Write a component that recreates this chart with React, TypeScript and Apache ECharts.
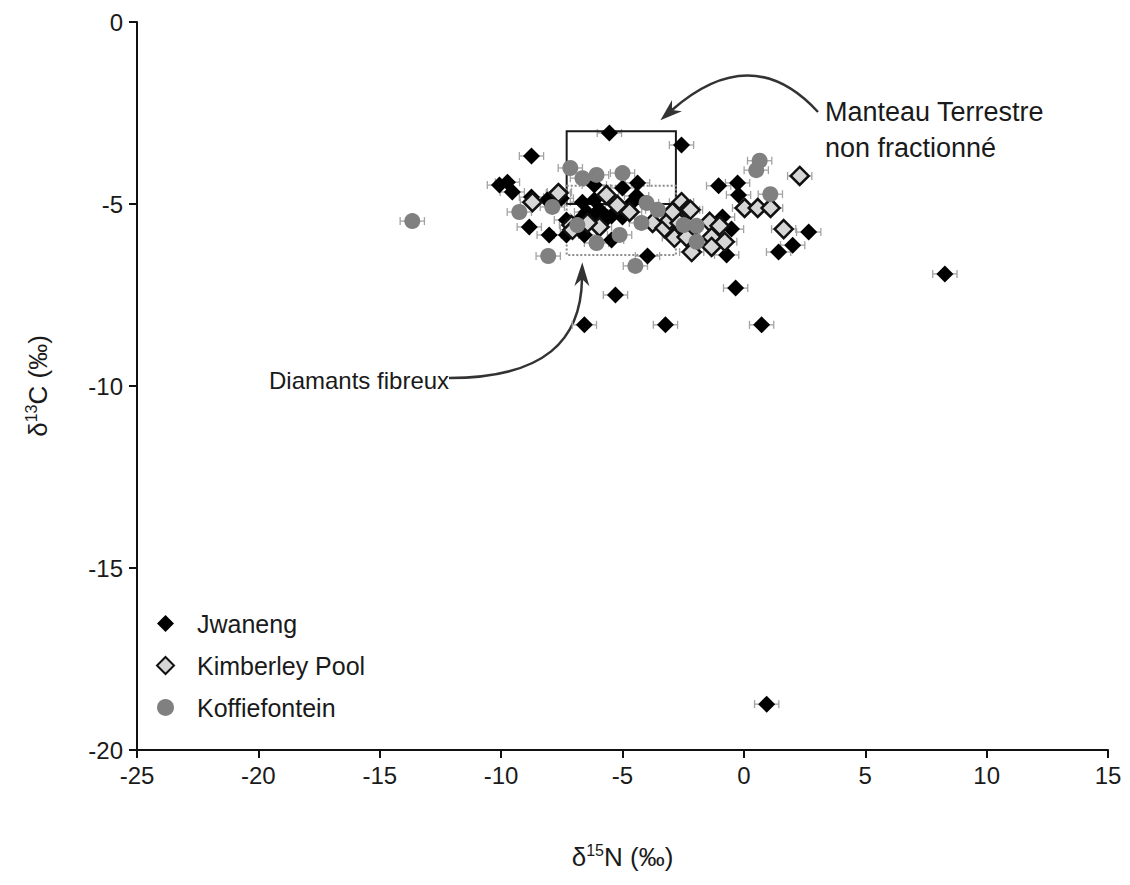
import React, { useEffect, useRef } from 'react';
import * as echarts from 'echarts';

// δ15N (‰), δ13C (‰)
const JWANENG: [number, number][] = [
  [-5.54, -3.05], [-2.57, -3.38], [-8.75, -3.68], [-10.07, -4.48], [-9.74, -4.4],
  [-9.54, -4.67], [-6.16, -4.48], [-5.0, -4.56], [-4.38, -4.42], [-4.42, -4.78],
  [-7.6, -4.67], [-7.52, -4.84], [-8.1, -4.89], [-8.75, -4.81], [-6.65, -4.95],
  [-6.16, -4.89], [-4.63, -4.97], [-6.48, -5.22], [-5.95, -5.16], [-5.45, -5.33],
  [-5.0, -5.36], [-6.65, -5.36], [-6.16, -5.3], [-5.62, -5.38], [-8.84, -5.63],
  [-8.02, -5.85], [-7.31, -5.44], [-7.31, -5.85], [-6.57, -5.85], [-5.45, -5.99],
  [-3.97, -6.43], [-0.88, -5.36], [-0.51, -5.69], [-0.71, -6.4], [-1.04, -4.5],
  [-0.26, -4.42], [-0.22, -4.75], [2.67, -5.77], [2.01, -6.13], [1.43, -6.32],
  [-5.29, -7.5], [-0.34, -7.31], [-6.57, -8.32], [-3.23, -8.32], [0.73, -8.32],
  [8.28, -6.92], [0.94, -18.74],
];

const KIMBERLEY: [number, number][] = [
  [-8.71, -4.95], [-7.64, -4.7], [-5.66, -4.75], [-5.21, -5.03], [-4.71, -5.22],
  [-7.1, -5.58], [-7.06, -5.71], [-5.95, -5.63], [-6.44, -5.52], [-3.76, -5.52],
  [-3.27, -5.66], [-2.86, -5.93], [-2.32, -5.8], [-3.06, -5.44], [-2.65, -5.52],
  [-2.57, -4.95], [-2.32, -5.16], [-2.94, -5.22], [-2.2, -5.16], [-1.41, -5.49],
  [-1.0, -5.6], [-2.36, -5.91], [-1.33, -5.91], [-0.79, -6.04], [-2.15, -6.32],
  [-1.33, -6.18], [0.03, -5.11], [0.57, -5.11], [1.1, -5.11], [1.64, -5.69],
  [2.3, -4.23],
];

const KOFFIEFONTEIN: [number, number][] = [
  [-13.66, -5.47], [-7.15, -4.01], [-6.65, -4.29], [-6.07, -4.2], [-5.0, -4.15],
  [-9.25, -5.22], [-7.89, -5.08], [-6.86, -5.58], [-4.01, -4.97], [-3.55, -5.16],
  [-4.22, -5.52], [-5.12, -5.85], [-6.07, -6.07], [-2.48, -5.58], [-1.95, -5.6],
  [-1.95, -6.04], [-8.06, -6.43], [-4.47, -6.7], [0.65, -3.81], [0.51, -4.07],
  [1.09, -4.73],
];

const SERIES_NAMES = ['Jwaneng', 'Kimberley Pool', 'Koffiefontein'];
const ERR_N = 0.5; // half-width of δ15N error bars (‰)

// boxes: [xMin, yTop, xMax, yBottom]
const MANTLE_BOX = [-7.3, -3.0, -2.8, -5.0];
const FIBROUS_BOX = [-7.3, -4.5, -2.8, -6.4];

const FONT = '"Liberation Sans", Arial, Helvetica, sans-serif';

function errorSeries(data: [number, number][]) {
  return {
    type: 'custom',
    data,
    encode: { x: 0, y: 1 },
    silent: true,
    z: 1,
    renderItem: (_p: any, api: any) => {
      const x = api.value(0);
      const y = api.value(1);
      const l = api.coord([x - ERR_N, y]);
      const r = api.coord([x + ERR_N, y]);
      const c = 4;
      const st = { stroke: '#a3a3a3', lineWidth: 1.3 };
      return {
        type: 'group',
        children: [
          { type: 'line', shape: { x1: l[0], y1: l[1], x2: r[0], y2: r[1] }, style: st },
          { type: 'line', shape: { x1: l[0], y1: l[1] - c, x2: l[0], y2: l[1] + c }, style: st },
          { type: 'line', shape: { x1: r[0], y1: r[1] - c, x2: r[0], y2: r[1] + c }, style: st },
        ],
      };
    },
  };
}

function boxSeries(box: number[], dashed: boolean) {
  return {
    type: 'custom',
    data: [box],
    encode: { x: [0, 2], y: [1, 3] },
    silent: true,
    z: 1.5,
    renderItem: (_p: any, api: any) => {
      const a = api.coord([api.value(0), api.value(1)]);
      const b = api.coord([api.value(2), api.value(3)]);
      return {
        type: 'rect',
        shape: {
          x: Math.min(a[0], b[0]),
          y: Math.min(a[1], b[1]),
          width: Math.abs(b[0] - a[0]),
          height: Math.abs(b[1] - a[1]),
        },
        style: dashed
          ? { fill: 'none', stroke: '#8a8a8a', lineWidth: 2, lineDash: [2, 2] }
          : { fill: 'none', stroke: '#1a1a1a', lineWidth: 2 },
      };
    },
  };
}

function arrowHead(tip: [number, number], dir: [number, number], len: number, wid: number) {
  const n = Math.hypot(dir[0], dir[1]);
  const d = [dir[0] / n, dir[1] / n];
  const p = [-d[1], d[0]];
  const bx = tip[0] - len * d[0];
  const by = tip[1] - len * d[1];
  const nx = tip[0] - 0.7 * len * d[0];
  const ny = tip[1] - 0.7 * len * d[1];
  return [
    [tip[0], tip[1]],
    [bx + (wid / 2) * p[0], by + (wid / 2) * p[1]],
    [nx, ny],
    [bx - (wid / 2) * p[0], by - (wid / 2) * p[1]],
  ];
}

export default function App() {
  const ref = useRef<HTMLDivElement>(null);

  useEffect(() => {
    if (!ref.current) return;
    const chart = echarts.init(ref.current, null, { renderer: 'svg' });

    const axisFont = { fontSize: 24, color: '#1a1a1a', fontFamily: FONT };
    const nameRich = {
      a: { fontSize: 26, color: '#1a1a1a', fontFamily: FONT, lineHeight: 30 },
      s: { fontSize: 16, color: '#1a1a1a', fontFamily: FONT, verticalAlign: 'top' },
    };

    // arrow 1 (Manteau): quadratic
    const m0: [number, number] = [818, 112];
    const mc: [number, number] = [752, 40];
    const m1: [number, number] = [672, 110];
    const mDir: [number, number] = [m1[0] - mc[0], m1[1] - mc[1]];
    const mLen = Math.hypot(mDir[0], mDir[1]);
    const mTip: [number, number] = [m1[0] + (mDir[0] / mLen) * 15.4, m1[1] + (mDir[1] / mLen) * 15.4];

    // arrow 2 (Diamants): cubic
    const d0: [number, number] = [449, 378];
    const dc1: [number, number] = [545, 378];
    const dc2: [number, number] = [581, 340];
    const d1: [number, number] = [582, 279];
    const dDir: [number, number] = [d1[0] - dc2[0], d1[1] - dc2[1]];
    const dLen = Math.hypot(dDir[0], dDir[1]);
    const dTip: [number, number] = [d1[0] + (dDir[0] / dLen) * 16.8, d1[1] + (dDir[1] / dLen) * 16.8];

    const arrowColor = '#333333';
    const annot = { fontFamily: FONT, fill: '#1a1a1a', verticalAlign: 'middle', align: 'left' };

    const option: any = {
      animation: false,
      backgroundColor: '#ffffff',
      textStyle: { fontFamily: FONT },
      grid: { left: 137, right: 22, top: 22, bottom: 135, containLabel: false },
      legend: {
        data: SERIES_NAMES,
        orient: 'vertical',
        left: 151,
        top: 606,
        itemWidth: 17,
        itemHeight: 17,
        itemGap: 17,
        textStyle: { fontSize: 25, color: '#1a1a1a', fontFamily: FONT, padding: [0, 0, 0, 18] },
      },
      xAxis: {
        type: 'value',
        min: -25,
        max: 15,
        interval: 5,
        name: '{a|δ}{s|15}{a|N (‰)}',
        nameLocation: 'middle',
        nameGap: 92,
        nameTextStyle: { rich: nameRich },
        axisLine: { show: true, onZero: false, lineStyle: { color: '#111', width: 2 } },
        axisTick: { show: true, inside: false, length: 8, lineStyle: { color: '#111', width: 2 } },
        axisLabel: { ...axisFont, margin: 13 },
        splitLine: { show: false },
      },
      yAxis: {
        type: 'value',
        min: -20,
        max: 0,
        interval: 5,
        name: '{a|δ}{s|13}{a|C (‰)}',
        nameLocation: 'middle',
        nameRotate: 90,
        nameGap: 84,
        nameTextStyle: { rich: nameRich },
        axisLine: { show: true, onZero: false, lineStyle: { color: '#111', width: 2 } },
        axisTick: { show: true, inside: false, length: 8, lineStyle: { color: '#111', width: 2 } },
        axisLabel: { ...axisFont, margin: 14 },
        splitLine: { show: false },
      },
      series: [
        errorSeries(JWANENG),
        errorSeries(KIMBERLEY),
        errorSeries(KOFFIEFONTEIN),
        boxSeries(MANTLE_BOX, false),
        boxSeries(FIBROUS_BOX, true),
        {
          name: SERIES_NAMES[0],
          type: 'scatter',
          data: JWANENG,
          symbol: 'diamond',
          symbolSize: 17,
          z: 3,
          itemStyle: { color: '#000000', opacity: 1 },
        },
        {
          name: SERIES_NAMES[1],
          type: 'scatter',
          data: KIMBERLEY,
          symbol: 'diamond',
          symbolSize: 18,
          z: 3,
          itemStyle: { color: '#d6d6d6', borderColor: '#111111', borderWidth: 2.5, opacity: 1 },
        },
        {
          name: SERIES_NAMES[2],
          type: 'scatter',
          data: KOFFIEFONTEIN,
          symbol: 'circle',
          symbolSize: 16,
          z: 3,
          itemStyle: { color: '#808080', opacity: 1 },
        },
      ],
      graphic: [
        { type: 'text', x: 825, y: 112, style: { text: 'Manteau Terrestre', fontSize: 27, ...annot } },
        { type: 'text', x: 825, y: 148, style: { text: 'non fractionné', fontSize: 27, ...annot } },
        { type: 'text', x: 269, y: 380, style: { text: 'Diamants fibreux', fontSize: 24, ...annot } },
        {
          type: 'bezierCurve',
          shape: { x1: m0[0], y1: m0[1], cpx1: mc[0], cpy1: mc[1], x2: m1[0], y2: m1[1] },
          style: { stroke: arrowColor, lineWidth: 2.5, fill: 'none' },
        },
        {
          type: 'polygon',
          shape: { points: arrowHead(mTip, mDir, 22, 15) },
          style: { fill: arrowColor, stroke: 'none' },
        },
        {
          type: 'bezierCurve',
          shape: { x1: d0[0], y1: d0[1], cpx1: dc1[0], cpy1: dc1[1], cpx2: dc2[0], cpy2: dc2[1], x2: d1[0], y2: d1[1] },
          style: { stroke: arrowColor, lineWidth: 2.5, fill: 'none' },
        },
        {
          type: 'polygon',
          shape: { points: arrowHead(dTip, dDir, 24, 15) },
          style: { fill: arrowColor, stroke: 'none' },
        },
      ],
    };

    chart.setOption(option);
    return () => chart.dispose();
  }, []);

  return (
    <div
      ref={ref}
      style={{ position: 'fixed', left: 0, top: 0, width: 1130, height: 885, background: '#ffffff' }}
    />
  );
}
